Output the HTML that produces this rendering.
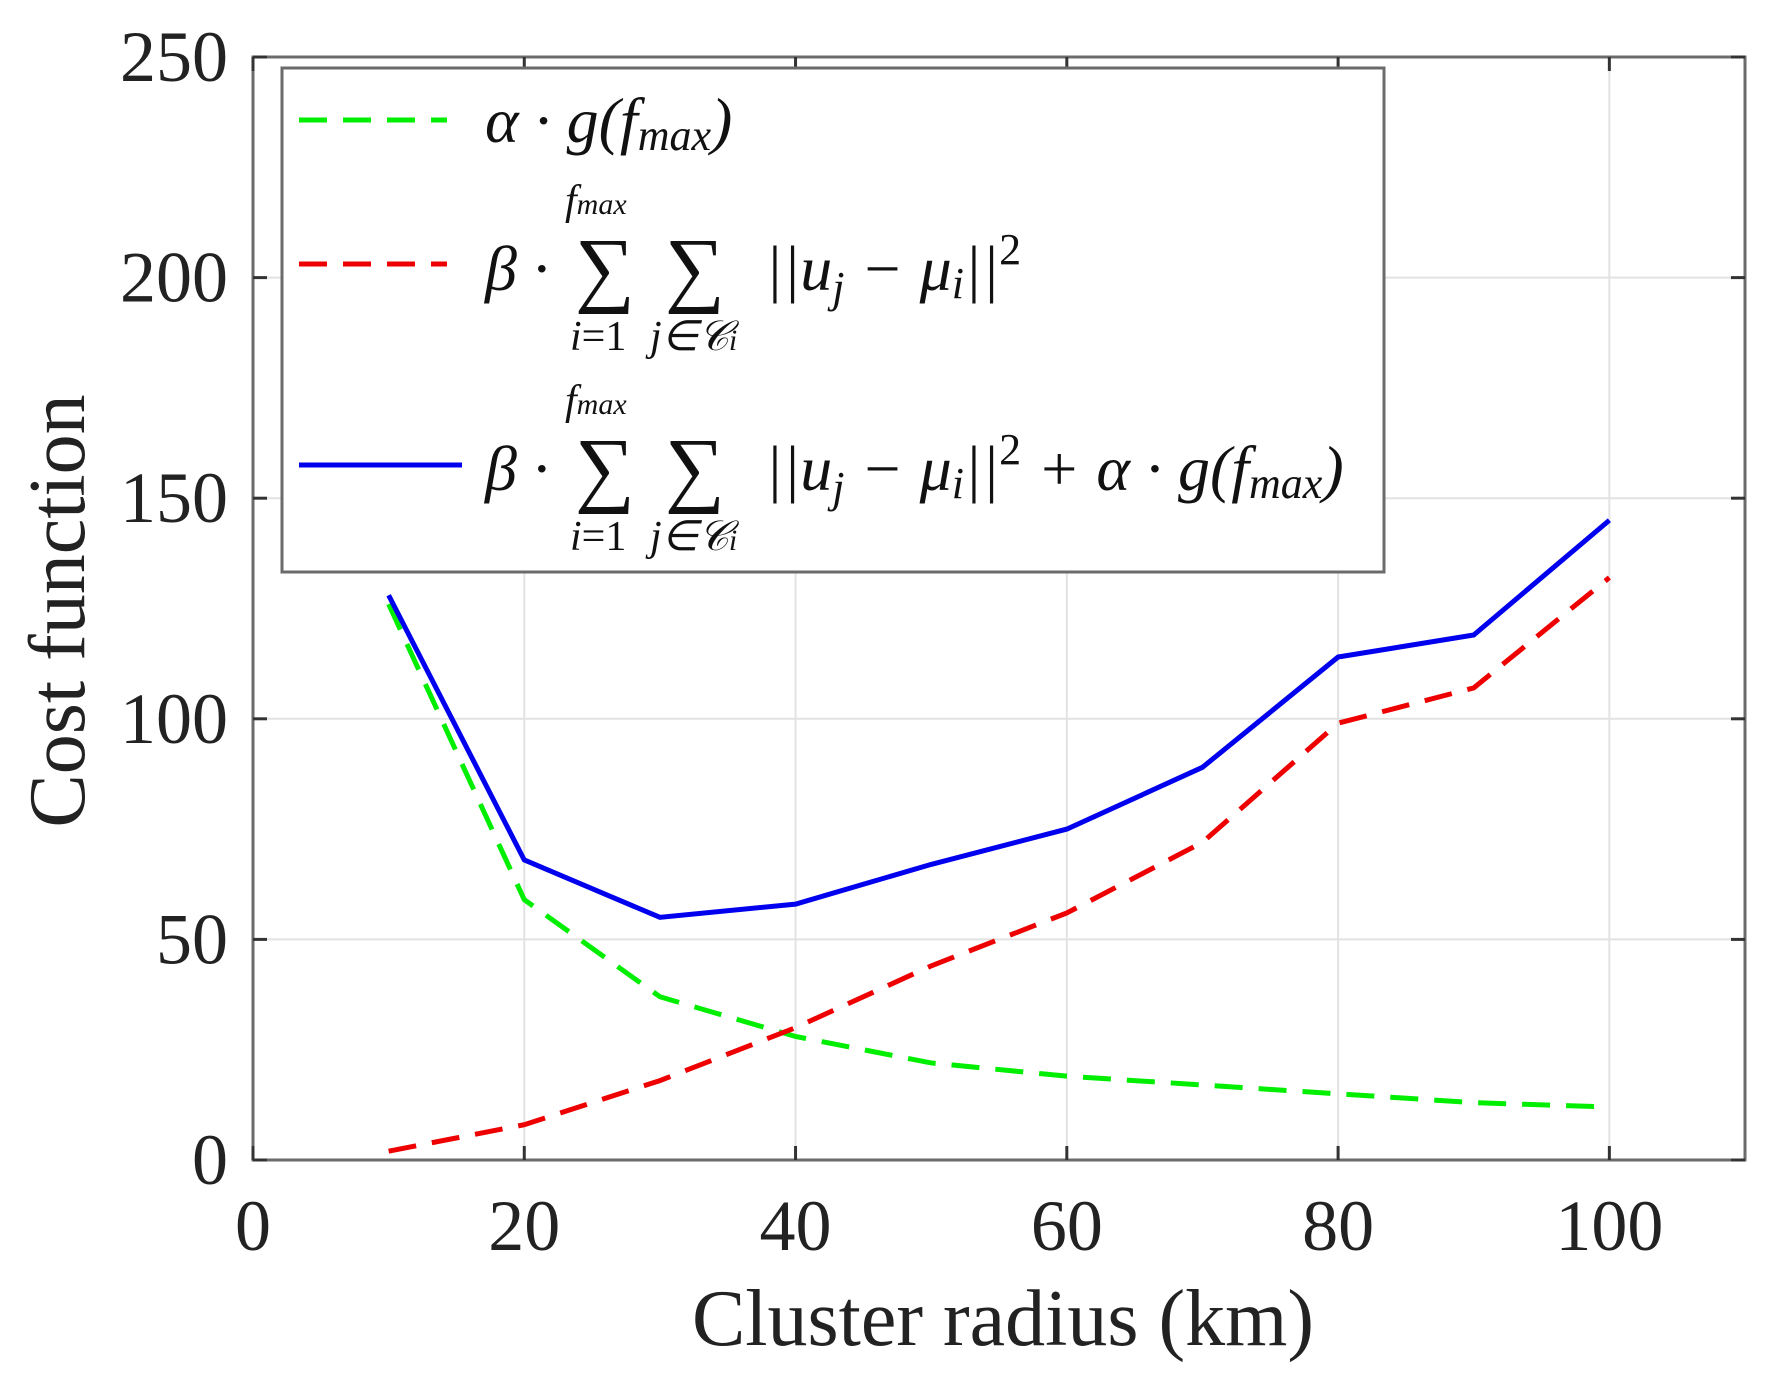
<!DOCTYPE html>
<html><head><meta charset="utf-8"><style>
html,body{margin:0;padding:0;background:#fff;}
svg{display:block;font-family:"Liberation Serif",serif;}
</style></head><body>
<svg id="chart" width="1779" height="1387" viewBox="0 0 1779 1387">
<g id="grid"></g>
<g id="series"></g>
<rect x="253" y="57" width="1492" height="1103" fill="none" stroke="#6b6b6b" stroke-width="3"/>
<g id="ticks"></g>
<text x="1003" y="1345" font-size="80" text-anchor="middle" fill="#222">Cluster radius (km)</text>
<text transform="translate(84,611) rotate(-90)" font-size="80" text-anchor="middle" fill="#222">Cost function</text>
<g>
<rect x="282" y="68" width="1102" height="504" fill="#fff" stroke="#6b6b6b" stroke-width="3"/>
<g>
<line x1="299" y1="120" x2="447" y2="120" stroke="#00ee00" stroke-width="5" stroke-dasharray="28,16"/>
<text x="485" y="142" font-size="64" font-style="italic" fill="#111">α · g(<tspan>f</tspan><tspan font-size="44" dy="8">max</tspan><tspan dy="-8">)</tspan></text>
</g>
<g>
<line x1="299" y1="264" x2="447" y2="264" stroke="#ee0000" stroke-width="5" stroke-dasharray="28,16"/>
<text x="565" y="214" font-size="42" font-style="italic" fill="#111">f<tspan font-size="30">max</tspan></text>
<text x="485" y="290" font-size="64" font-style="italic" fill="#111">β ·</text>
<text x="575" y="296" font-size="84" fill="#111">∑</text>
<text x="665" y="296" font-size="84" fill="#111">∑</text>
<text x="570" y="350" font-size="42" font-style="italic" fill="#111">i<tspan font-style="normal">=1</tspan></text>
<text x="650" y="350" font-size="42" font-style="italic" fill="#111">j∈𝒞<tspan font-size="30">i</tspan></text>
<text x="765" y="290" font-size="64" font-style="italic" fill="#111">||u<tspan font-size="44" dy="12">j</tspan><tspan dy="-12"> − μ</tspan><tspan font-size="44" dy="8">i</tspan><tspan dy="-8">||</tspan><tspan font-size="44" font-style="normal" dy="-26">2</tspan></text>
</g>
<g>
<line x1="299" y1="465" x2="462" y2="465" stroke="#0000ee" stroke-width="5"/>
<text x="565" y="414" font-size="42" font-style="italic" fill="#111">f<tspan font-size="30">max</tspan></text>
<text x="485" y="490" font-size="64" font-style="italic" fill="#111">β ·</text>
<text x="575" y="496" font-size="84" fill="#111">∑</text>
<text x="665" y="496" font-size="84" fill="#111">∑</text>
<text x="570" y="550" font-size="42" font-style="italic" fill="#111">i<tspan font-style="normal">=1</tspan></text>
<text x="650" y="550" font-size="42" font-style="italic" fill="#111">j∈𝒞<tspan font-size="30">i</tspan></text>
<text x="765" y="490" font-size="64" font-style="italic" fill="#111">||u<tspan font-size="44" dy="12">j</tspan><tspan dy="-12"> − μ</tspan><tspan font-size="44" dy="8">i</tspan><tspan dy="-8">||</tspan><tspan font-size="44" font-style="normal" dy="-26">2</tspan><tspan dy="26"> + α · g(f</tspan><tspan font-size="44" dy="8">max</tspan><tspan dy="-8">)</tspan></text>
</g>
</g>
</svg>
<script>
const xCats=[10,20,30,40,50,60,70,80,90,100];
const greenVals=[126,59,37,28,22,19,17,15,13,12];
const redVals=[2,8,18,30,44,56,72,99,107,132];
const blueVals=[128,68,55,58,67,75,89,114,119,145];
const xTicks=[0,20,40,60,80,100];
const yTicks=[0,50,100,150,200,250];
const NS="http://www.w3.org/2000/svg";
const L=253,R=1745,T=57,B=1160;
function sx(v){return L+v/110*(R-L);}
function sy(v){return B-v/250*(B-T);}
function mk(tag,attrs,parent){const e=document.createElementNS(NS,tag);for(const k in attrs)e.setAttribute(k,attrs[k]);parent.appendChild(e);return e;}
const grid=document.getElementById('grid'),ticks=document.getElementById('ticks'),series=document.getElementById('series');
xTicks.forEach(v=>{
  const x=sx(v);
  const g=mk('line',{x1:x,y1:T,x2:x,y2:B,stroke:'#e2e2e2','stroke-width':2},grid);
  
  
  mk('line',{x1:x,y1:B,x2:x,y2:B-14,stroke:'#333','stroke-width':3},ticks);
  mk('line',{x1:x,y1:T,x2:x,y2:T+14,stroke:'#333','stroke-width':3},ticks);
  const t=mk('text',{x:x,y:1250,'font-size':72,'text-anchor':'middle',fill:'#222'},ticks);
  t.textContent=v;
  
  
});
yTicks.forEach(v=>{
  const y=sy(v);
  const g=mk('line',{x1:L,y1:y,x2:R,y2:y,stroke:'#e2e2e2','stroke-width':2},grid);
  
  
  mk('line',{x1:L,y1:y,x2:L+14,y2:y,stroke:'#333','stroke-width':3},ticks);
  mk('line',{x1:R,y1:y,x2:R-14,y2:y,stroke:'#333','stroke-width':3},ticks);
  const t=mk('text',{x:228,y:y+24,'font-size':72,'text-anchor':'end',fill:'#222'},ticks);
  t.textContent=v;
  
  
});
function line(vals,color,dash,name){
  const pts=vals.map((v,i)=>sx(xCats[i])+','+sy(v)).join(' ');
  const p=mk('polyline',{points:pts,fill:'none',stroke:color,'stroke-width':5,'stroke-dasharray':dash},series);
  
  
}
line(greenVals,'#00ee00','28,16','alpha-g-line');
line(redVals,'#ee0000','28,16','beta-sum-line');
line(blueVals,'#0000ee','none','total-cost-line');
</script>
</body></html>
